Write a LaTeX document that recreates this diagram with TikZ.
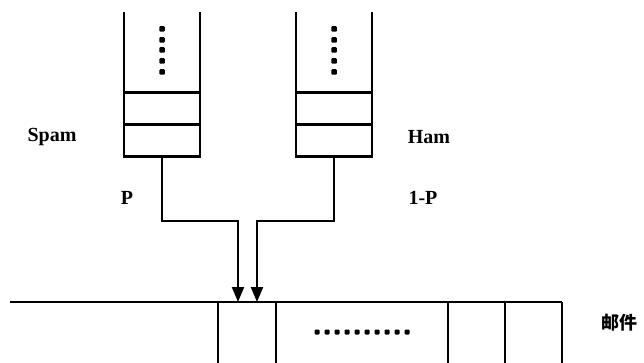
\documentclass[tikz,border=0pt]{standalone}
\usepackage{fontspec}
\setmainfont{Liberation Serif}
\newfontfamily\cjk{Noto Sans CJK SC}
\usetikzlibrary{arrows.meta}
\begin{document}
\begin{tikzpicture}[x=1pt,y=-1pt,
  ln/.style={line width=2.2pt},
  cell/.style={draw,line width=2.2pt,minimum width=76pt,minimum height=32pt,inner sep=0pt,outer sep=0pt},
  conn/.style={line width=2.2pt,-{Triangle[width=12pt,length=15pt]}},
  lbl/.style={font=\bfseries\fontsize{20}{22}\selectfont,inner sep=0pt},
  dotm/.style={fill=black,draw=none,minimum size=5.5pt,inner sep=0pt,shape=rectangle,rounded corners=1pt}]
\useasboundingbox (0,0) rectangle (644,363);
% left queue
\node[cell] (lq1) at (162,140.5) {};
\node[cell,anchor=south] (lq2) at (lq1.north) {};
\draw[ln] (lq2.north west) -- ++(0,-80);
\draw[ln] (lq2.north east) -- ++(0,-80);
\foreach \y [count=\i] in {29,40,50,61,72} \node[dotm] (ld\i) at (162,\y) {};
% right queue
\node[cell] (rq1) at (334,140.5) {};
\node[cell,anchor=south] (rq2) at (rq1.north) {};
\draw[ln] (rq2.north west) -- ++(0,-80);
\draw[ln] (rq2.north east) -- ++(0,-80);
\foreach \y [count=\i] in {29,40,50,61,72} \node[dotm] (rd\i) at (334,\y) {};
% labels
\node[lbl] (spam) at (52,137) {Spam};
\node[lbl] (ham) at (429,137) {Ham};
\node[lbl] (p) at (127,198) {P};
\node[lbl] (onep) at (423,198) {1-P};
\node[inner sep=0pt,font=\cjk\bfseries\fontsize{18}{20}\selectfont] (mail) at (619,323) {邮件};
% mail row
\coordinate (rowL) at (10,302);
\coordinate (rowR) at (562,302);
\draw[ln] (rowL) -- (rowR);
\foreach \x [count=\i] in {218,276,448,505,562} {
  \coordinate (v\i) at (\x,302);
  \draw[ln] (v\i) -- (\x,363);
}
\foreach \x [count=\i] in {317,327,337,347,357,367,377,387,397,407}
  \node[dotm,minimum size=5pt] (md\i) at (\x,332) {};
% connectors
\coordinate (t1) at (238,302);
\coordinate (t2) at (257,302);
\draw[conn] (lq1.south) |- (200,221) -| (t1);
\draw[conn] (rq1.south) |- (300,221) -| (t2);
\end{tikzpicture}
\end{document}
